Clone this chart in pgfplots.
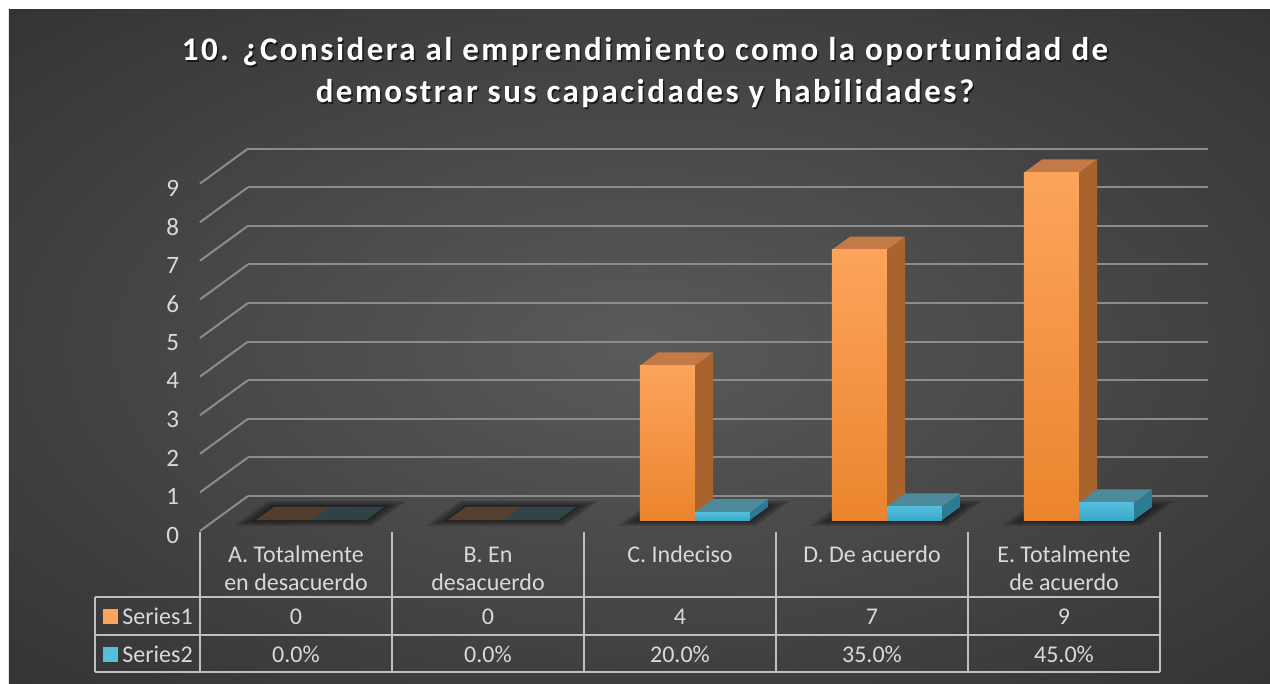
\documentclass[border=0pt]{standalone}
\usepackage{fontspec}
\setmainfont{Carlito}
\newfontfamily\titlefont[LetterSpace=7.5]{Carlito}
\usepackage{pgfplots}
\usepackage{pgfplotstable}
\pgfplotsset{compat=1.18}
\pgfdeclarelayer{background}
\pgfsetlayers{background,main}

\definecolor{bgin}{RGB}{90,90,90}
\definecolor{bgout}{RGB}{36,36,36}
\definecolor{gridgray}{RGB}{140,140,140}
\definecolor{lbl}{RGB}{217,217,217}
\definecolor{tblline}{RGB}{191,191,191}
\definecolor{oTop}{RGB}{252,164,92}
\definecolor{oBot}{RGB}{235,132,45}
\definecolor{oSide}{RGB}{168,99,46}
\definecolor{oFace}{RGB}{196,122,70}
\definecolor{cTop}{RGB}{84,190,220}
\definecolor{cBot}{RGB}{58,170,202}
\definecolor{cSide}{RGB}{46,122,144}
\definecolor{cFace}{RGB}{76,138,156}

\pgfdeclareradialshading{bgshade}{\pgfpoint{0bp}{0bp}}{color(0bp)=(bgin); color(50bp)=(bgout); color(100bp)=(bgout)}

% Series1 = count, Series2 = share (plotted as fraction)
\pgfplotstableread{
cat s1 s2
0 0 0.00
1 0 0.00
2 4 0.20
3 7 0.35
4 9 0.45
}\datatable

\def\da{0.31}
\def\db{0.69}
\def\bw{0.287}

% #1 x0, #2 x1, #3 height, #4/#5 front gradient, #6 side, #7 top face
\newcommand\drawbar[7]{%
  \pgfmathsetmacro\xa{#1}\pgfmathsetmacro\xb{#2}\pgfmathsetmacro\hh{#3}%
  \ifdim\hh pt>0pt
  \edef\tmp{%
    \noexpand\addplot3[draw=none,fill=#6] coordinates {(\xb,\da,0) (\xb,\db,0) (\xb,\db,\hh) (\xb,\da,\hh)};
    \noexpand\addplot3[draw=none,fill=#7] coordinates {(\xa,\da,\hh) (\xb,\da,\hh) (\xb,\db,\hh) (\xa,\db,\hh)};
    \noexpand\addplot3[draw=none,top color=#4,bottom color=#5] coordinates {(\xa,\da,0) (\xb,\da,0) (\xb,\da,\hh) (\xa,\da,\hh)};
  }%
  \else
  \edef\tmp{%
    \noexpand\addplot3[draw=none,fill=#7,fill opacity=0.3] coordinates {(\xa,\da,0) (\xb,\da,0) (\xb,\db,0) (\xa,\db,0)};
  }%
  \fi
  \tmp
}

% soft floor shadow under a group
\newcommand\drawshadow[1]{%
  \foreach \mx/\my in {0.07/0.16, 0.045/0.1, 0.02/0.05}{%
    \pgfmathsetmacro\sa{#1-\bw-\mx}\pgfmathsetmacro\sb{#1+\bw+\mx}%
    \pgfmathsetmacro\ya{\da-\my}\pgfmathsetmacro\yb{\db+\my}%
    \edef\tmp{\noexpand\addplot3[draw=none,fill=black,fill opacity=0.2] coordinates {(\sa,\ya,0) (\sb,\ya,0) (\sb,\yb,0) (\sa,\yb,0)};}\tmp
  }%
}

\begin{document}
\begin{tikzpicture}[x=0.5pt,y=0.5pt]
\begin{axis}[
  x={(96pt,0pt)}, y={(24pt,17.5pt)}, z={(0pt,19.3pt)},
  xmin=-0.5, xmax=4.5, ymin=0, ymax=1, zmin=0, zmax=9,
  xtick=\empty, ytick=\empty, ztick={0,...,9},
  zmajorgrids,
  major grid style={draw=gridgray, line width=1pt},
  axis line style={draw=none},
  major tick length=0pt,
  zticklabel style={font=\fontsize{12.5}{15}\selectfont, text=lbl,
    /pgf/number format/assume math mode=true, xshift=-7pt},
  clip=false,
]
\pgfplotsinvokeforeach{0,...,4}{%
  \pgfplotstablegetelem{#1}{s1}\of\datatable \let\hA\pgfplotsretval
  \pgfplotstablegetelem{#1}{s2}\of\datatable \let\hB\pgfplotsretval
  \drawshadow{#1}
  \drawbar{#1-\bw}{#1}{\hA}{oTop}{oBot}{oSide}{oFace}
  \drawbar{#1}{#1+\bw}{\hB}{cTop}{cBot}{cSide}{cFace}
}
\coordinate (O) at (axis cs:0,0,0);
\end{axis}

% everything else is laid out in pixels, with the axis origin at (296,153)
\begin{scope}[shift={(O)}, shift={(-296,-153)}]
\begin{pgfonlayer}{background}
\fill[white] (0,0) rectangle (1270,684);
\shade[shading=bgshade] (9,0) rectangle (1270,674);
\end{pgfonlayer}

% title
\node[align=center, font=\titlefont\bfseries\fontsize{16.5}{21}\selectfont, text=black, opacity=0.6] at (646.5,609.5)
  {10. ¿Considera al emprendimiento como la oportunidad de\\demostrar sus capacidades y habilidades?};
\node[align=center, font=\titlefont\bfseries\fontsize{16.5}{21}\selectfont, text=white] at (645,611)
  {10. ¿Considera al emprendimiento como la oportunidad de\\demostrar sus capacidades y habilidades?};

% data table
\begin{scope}[draw=tblline, line width=1pt]
  \foreach \x in {200,392,584,776,968,1160} \draw (\x,152) -- (\x,12);
  \foreach \y in {87,49,12} \draw (95,\y) -- (1160,\y);
  \draw (95,87) -- (95,12);
\end{scope}

\begin{scope}[every node/.style={text=lbl, font=\fontsize{12}{14}\selectfont, anchor=base, inner sep=0pt}]
  \node at (296,121) {A. Totalmente};
  \node at (296,93) {en desacuerdo};
  \node at (488,121) {B. En};
  \node at (488,93) {desacuerdo};
  \node at (680,121) {C. Indeciso};
  \node at (872,121) {D. De acuerdo};
  \node at (1064,121) {E. Totalmente};
  \node at (1064,93) {de acuerdo};
  \foreach \x/\v in {296/0,488/0,680/4,872/7,1064/9} \node at (\x,59) {\v};
  \foreach \x/\v in {296/0.0\%,488/0.0\%,680/20.0\%,872/35.0\%,1064/45.0\%} \node at (\x,21) {\v};
  \node[anchor=base west] at (122,59) {Series1};
  \node[anchor=base west] at (122,21) {Series2};
\end{scope}
\fill[oTop] (103,60) rectangle (118,75);
\fill[cTop] (103,22) rectangle (118,37);

\pgfresetboundingbox
\useasboundingbox (0,0) rectangle (1270,684);
\end{scope}
\end{tikzpicture}
\end{document}
